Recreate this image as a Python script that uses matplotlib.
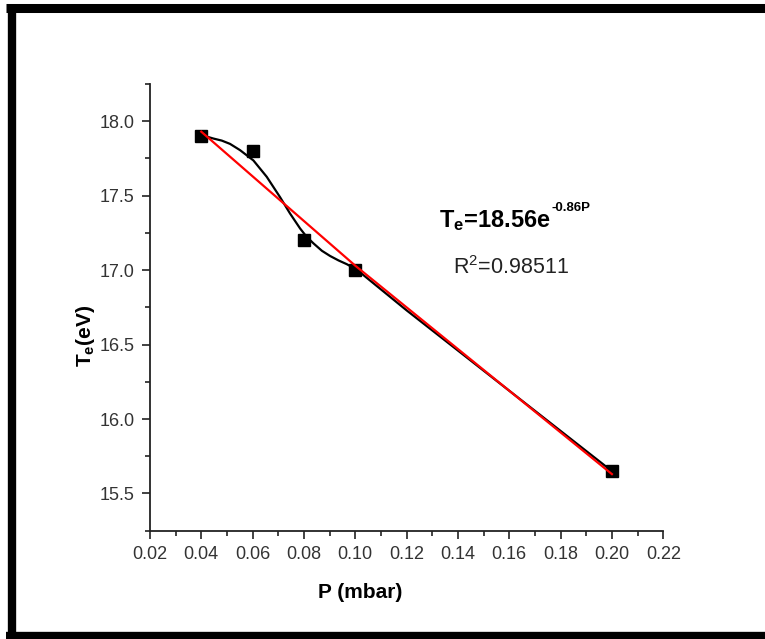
import matplotlib
matplotlib.use("Agg")
import matplotlib.pyplot as plt
from matplotlib.lines import Line2D
from matplotlib.ticker import MultipleLocator

plt.rcParams['font.family'] = ['Liberation Sans', 'DejaVu Sans']
plt.rcParams['mathtext.fontset'] = 'custom'
plt.rcParams['mathtext.rm'] = 'Liberation Sans'
plt.rcParams['mathtext.bf'] = 'Liberation Sans:bold'
plt.rcParams['mathtext.it'] = 'Liberation Sans:italic'

# measured points
pressure = [0.04, 0.06, 0.08, 0.10, 0.20]
te = [17.9, 17.8, 17.2, 17.0, 15.65]

# black smooth curve
curve_x = [0.040, 0.0425, 0.0447, 0.0480, 0.0512, 0.0551, 0.0603, 0.0655,
           0.0707, 0.0746, 0.0785, 0.0810, 0.0837, 0.0870, 0.0902, 0.0935,
           0.0967, 0.1006, 0.1200, 0.1500, 0.2000]
curve_y = [17.90, 17.895, 17.884, 17.87, 17.848, 17.806, 17.737, 17.627,
           17.49, 17.38, 17.28, 17.225, 17.18, 17.13, 17.095, 17.065,
           17.04, 17.003, 16.73, 16.325, 15.65]

# red fit line  Te = 18.56 exp(-0.86 P)
fit_x = [0.04, 0.10, 0.20]
fit_y = [17.93, 17.03, 15.63]

fig = plt.figure(figsize=(7.65, 6.39), dpi=100)
ax = fig.add_axes([0.196, 0.1695, 0.671, 0.699])

ax.plot(curve_x, curve_y, color='black', lw=1.6, zorder=2)
ax.plot(pressure, te, 's', color='black', ms=9, zorder=3)
ax.plot(fit_x, fit_y, color='red', lw=1.6, zorder=4)

ax.set_xlim(0.02, 0.22)
ax.set_ylim(15.25, 18.25)
ax.xaxis.set_major_locator(MultipleLocator(0.02))
ax.xaxis.set_minor_locator(MultipleLocator(0.01))
ax.yaxis.set_major_locator(MultipleLocator(0.5))
ax.yaxis.set_minor_locator(MultipleLocator(0.25))
ax.xaxis.set_major_formatter(plt.FormatStrFormatter('%.2f'))
ax.yaxis.set_major_formatter(plt.FormatStrFormatter('%.1f'))

for s in ['top', 'right']:
    ax.spines[s].set_visible(False)
for s in ['left', 'bottom']:
    ax.spines[s].set_linewidth(1.3)
    ax.spines[s].set_color('#222222')

ax.tick_params(which='major', direction='out', length=6, width=1.2,
               labelsize=13, labelcolor='#333333', color='#222222', pad=5)
ax.tick_params(which='minor', direction='out', length=3.5, width=1.2,
               color='#222222')

ax.set_xlabel('P (mbar)', fontsize=15, fontweight='bold')
ax.set_ylabel(r'$\mathbf{T_e(eV)}$', fontsize=15)
ax.xaxis.set_label_coords(0.409, -0.117)
ax.yaxis.set_label_coords(-0.103, 0.436)

# fit equation, superscript with a plain hyphen as in the original
eq = ax.text(0.1325, 17.29, r'$\mathbf{T_e}$=18.56e', fontsize=17,
             fontweight='bold', va='baseline', ha='left')
ax.annotate('-0.86P', xy=(1, 1), xycoords=eq, xytext=(1, 4.5),
            textcoords='offset points', fontsize=9.5, fontweight='bold',
            va='top', ha='left')
ax.text(0.1380, 16.977, r'R$^2$=0.98511', fontsize=15.5, va='baseline',
        ha='left', color='#222222')

# outer frame (top, left, bottom)
fig.add_artist(Line2D([0.008, 1.0], [0.9867, 0.9867], color='black', lw=6.5,
                      transform=fig.transFigure, solid_capstyle='butt'))
fig.add_artist(Line2D([0.0163, 0.0163], [0.0, 0.992], color='black', lw=6.0,
                      transform=fig.transFigure, solid_capstyle='butt'))
fig.add_artist(Line2D([0.008, 1.0], [0.004, 0.004], color='black', lw=6.0,
                      transform=fig.transFigure, solid_capstyle='butt'))

fig.savefig('out.png', dpi=100)
